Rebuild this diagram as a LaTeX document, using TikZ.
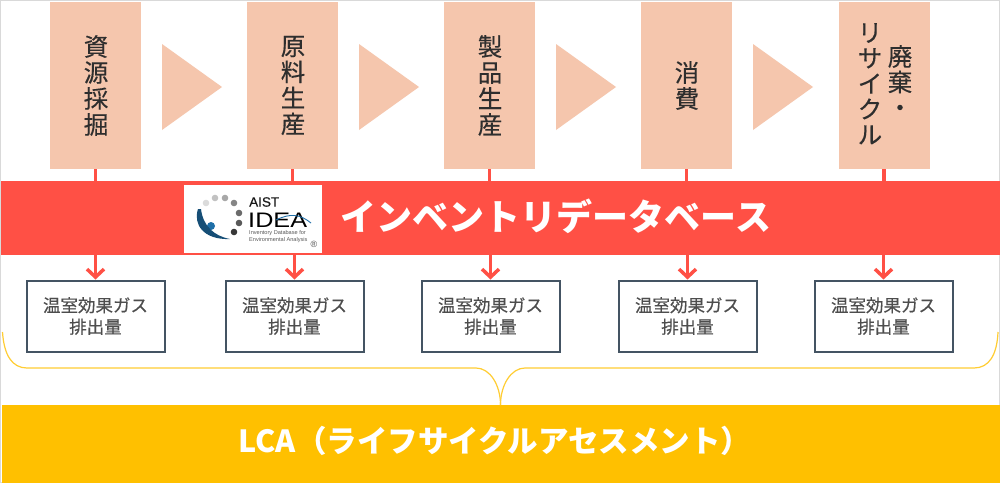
\documentclass[tikz,border=0pt]{standalone}
\usepackage{fontspec}
\setmainfont{Noto Sans CJK JP}
\newfontfamily\midfont[FakeBold=0.35]{Noto Sans CJK JP}
\newfontfamily\logofont{Liberation Sans}
\newfontfamily\logoheavy[FakeBold=0.4]{Liberation Sans}
\usetikzlibrary{arrows.meta}
\definecolor{peach}{HTML}{F5C6AD}
\definecolor{redband}{HTML}{FF5045}
\definecolor{gold}{HTML}{FFC000}
\definecolor{slate}{HTML}{445463}
\definecolor{ink}{HTML}{2E2E2E}
\definecolor{swoosh}{HTML}{1F6FA8}
\tikzset{
 stage/.style={fill=peach,draw=none,minimum width=91pt,minimum height=167pt,inner sep=0pt,text=ink,font=\midfont\fontsize{24.5}{26}\selectfont,align=center},
 vlabel/.style={text=ink,font=\midfont\fontsize{24.5}{25.5}\selectfont,inner sep=0pt,anchor=north,align=center},
 result/.style={draw=slate,line width=2pt,fill=white,minimum width=138pt,minimum height=71pt,inner sep=0pt,text=ink!85,font=\midfont\fontsize{17.5}{21.5}\selectfont,align=center},
 chev/.style={fill=peach,draw=none},
 link/.style={draw=redband,line width=3.5pt},
 linkarrow/.style={draw=redband,line width=3.5pt,-{Straight Barb[length=8pt,width=17pt,line width=3.5pt]}},
 brace/.style={draw=gold!80!white,line width=1.2pt}
}
\begin{document}
\begin{tikzpicture}[x=1pt,y=-1pt]
\useasboundingbox (0,0) rectangle (1000,483);
\fill[white] (0,0) rectangle (1000,483);
\draw[black!15,line width=1pt] (0.5,0.5) rectangle (999.5,482.5);

% red band
\node[fill=redband,minimum width=999pt,minimum height=74pt,inner sep=0pt,anchor=north west] (band) at (1,181) {};
% gold bar
\node[fill=gold,minimum width=998pt,minimum height=78pt,inner sep=0pt,anchor=north west] (lca) at (2,405) {};
\node[text=white,font=\fontsize{30.5}{32}\selectfont\bfseries,inner sep=0pt] (lcat) at (495,441) {LCA（ライフサイクルアセスメント）};

% stages
\node[stage] (b1) at (95.5,85.5) {\hspace*{1pt}資\\\hspace*{1pt}源\\\hspace*{1pt}採\\\hspace*{1pt}掘};
\node[stage] (b2) at (292.5,85.5) {\hspace*{1pt}原\\\hspace*{1pt}料\\\hspace*{1pt}生\\\hspace*{1pt}産};
\node[stage] (b3) at (489.5,85.5) {\hspace*{1pt}製\\\hspace*{1pt}品\\\hspace*{1pt}生\\\hspace*{1pt}産};
\node[stage] (b4) at (686.5,85.5) {\hspace*{1pt}消\\\hspace*{1pt}費};
\node[stage] (b5) at (884,85.5) {};
\node[vlabel] (b5a) at (870,23) {リ\\サ\\イ\\ク\\ル};
\node[vlabel] (b5b) at (900,45) {廃\\棄\\・};

% chevrons
\foreach \xa in {162,359,556,753}{
  \fill[chev] (\xa,44) -- (\xa+60,87) -- (\xa,130) -- cycle;
}

% results
\node[result] (s1) at (95.5,316) {温室効果ガス\\排出量};
\node[result] (s2) at (294.5,316) {温室効果ガス\\排出量};
\node[result] (s3) at (490.5,316) {温室効果ガス\\排出量};
\node[result] (s4) at (687.5,316) {温室効果ガス\\排出量};
\node[result] (s5) at (883.5,316) {温室効果ガス\\排出量};

% connectors
\foreach \i in {1,...,5}{
  \draw[link] (b\i.south) -- (b\i.south |- band.north);
  \draw[linkarrow] (s\i.north |- band.south) -- (s\i.north);
}

% brace
\coordinate (bl) at (2.5,332);
\coordinate (br) at (998,332);
\draw[brace] (bl) .. controls (4,355) and (12,368) .. (27,368) -- (476,368) .. controls (490,368) and (500.5,385) .. (500.5,405);
\draw[brace] (br) .. controls (997,355) and (989,368) .. (974,368) -- (525,368) .. controls (511,368) and (500.5,385) .. (500.5,405);

% logo
\node[fill=white,minimum width=138pt,minimum height=68pt,inner sep=0pt,anchor=north west] (logo) at (184,185) {};
\foreach \px/\py/\c in {206/203/14,215/198/24,225/198/34,234/203/48,239/213/58,239/223/65,234/232/78}{
  \fill[black!\c] (\px,\py) circle (3.3);
}
\fill[swoosh] (211,226) circle (4);
\fill[swoosh!70!black] (198,209) .. controls (193,224) and (203,240) .. (230,239) .. controls (214,236) and (203,226) .. (201,209) -- cycle;
\node[font=\logoheavy\fontsize{13.5}{14}\selectfont,text=black!90,inner sep=0pt,anchor=west] (laist) at (249,202) {AIST};
\node[font=\logofont\fontsize{21}{21}\selectfont,text=black,inner sep=0pt,anchor=west,xscale=1.2] (lidea) at (248,220) {IDEA};
\draw[swoosh,line width=0.9pt] (276,220) .. controls (290,213) and (300,214) .. (311,223);
\node[font=\logofont\fontsize{5.6}{7}\selectfont,text=black!65,inner sep=0pt,align=left,anchor=north west] (lsub) at (249,230.5) {Inventory Database for\\Environmental Analysis};
\node[font=\logofont\fontsize{9}{9}\selectfont,text=black!70,inner sep=0pt] (lreg) at (314,244) {®};

% band title
\node[text=white,font=\fontsize{36}{38}\selectfont\bfseries,inner sep=0pt] (title) at (556,216) {インベントリデータベース};
\end{tikzpicture}
\end{document}
